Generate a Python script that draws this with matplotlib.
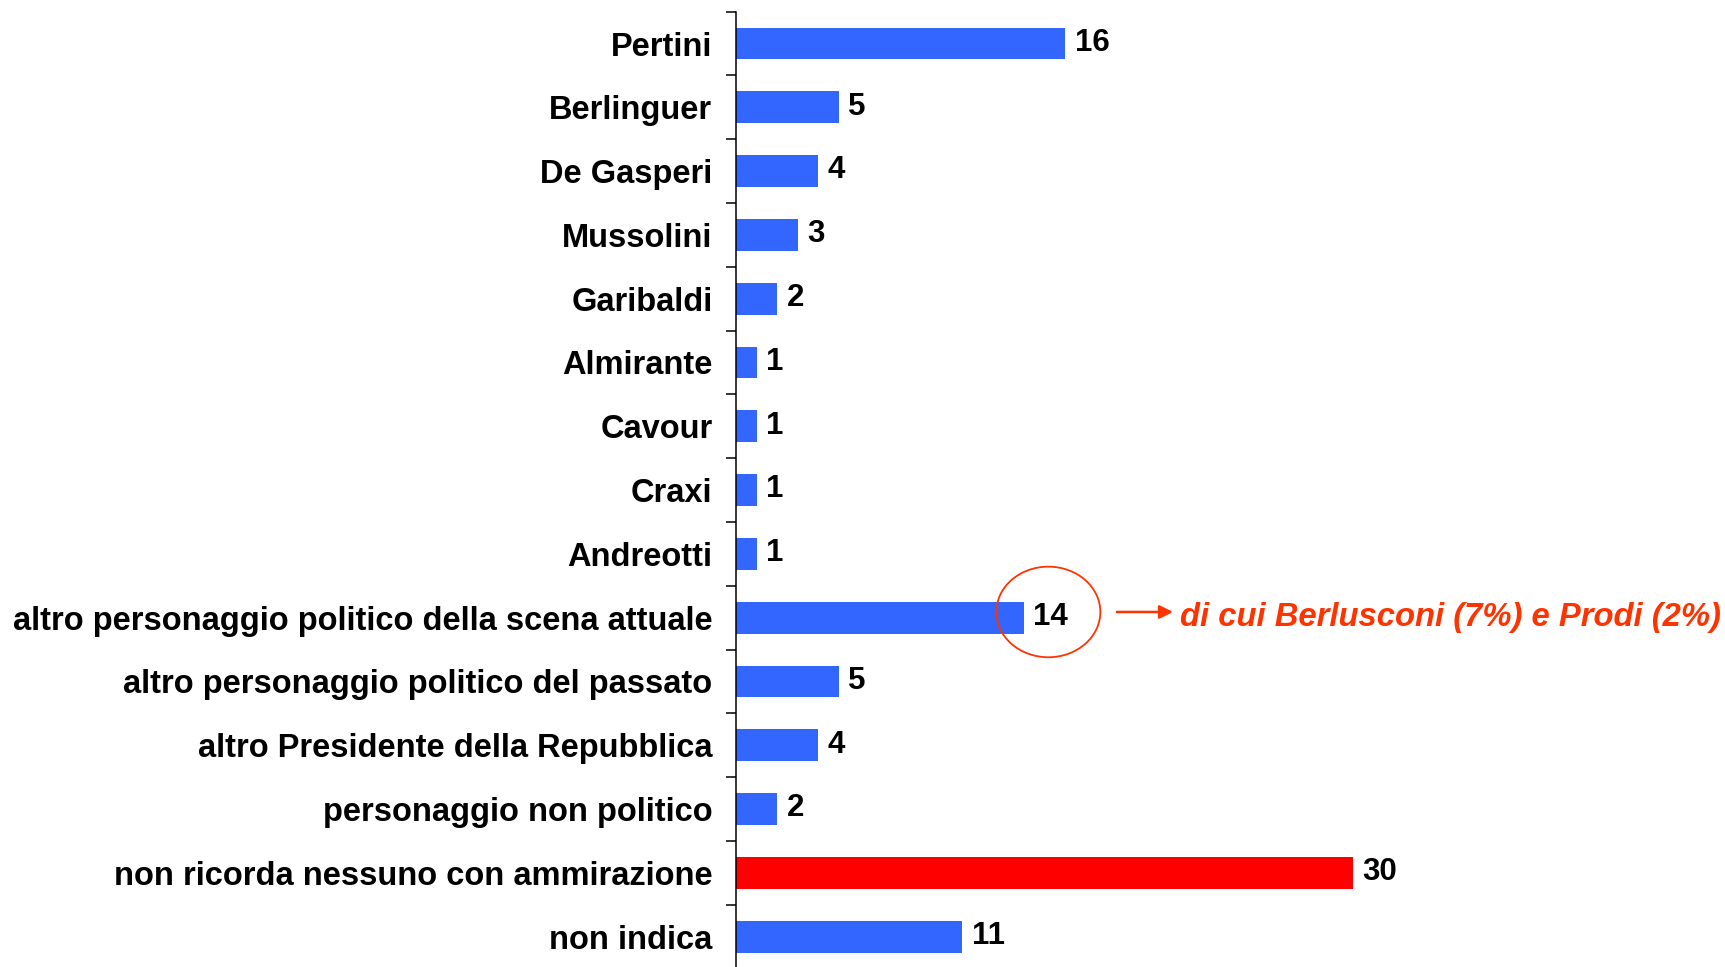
import matplotlib
matplotlib.use('Agg')
import matplotlib.pyplot as plt
from matplotlib.patches import Ellipse
import numpy as np

plt.rcParams['font.family'] = ['Liberation Sans', 'DejaVu Sans']

categories = ['Pertini', 'Berlinguer', 'De Gasperi', 'Mussolini', 'Garibaldi',
              'Almirante', 'Cavour', 'Craxi', 'Andreotti',
              'altro personaggio politico della scena attuale',
              'altro personaggio politico del passato',
              'altro Presidente della Repubblica',
              'personaggio non politico',
              'non ricorda nessuno con ammirazione',
              'non indica']
values = [16, 5, 4, 3, 2, 1, 1, 1, 1, 14, 5, 4, 2, 30, 11]
highlight = 'non ricorda nessuno con ammirazione'
note = 'di cui Berlusconi (7%) e Prodi (2%)'
note_row = 'altro personaggio politico della scena attuale'

blue = '#3366FF'
red = '#FF0000'
orange = '#FF3300'

fig = plt.figure(figsize=(17.25, 9.67), dpi=100)
ax = fig.add_axes([736 / 1725, -1.6 / 967, 989 / 1725, 957 / 967])

y = np.arange(len(categories))
colors = [red if c == highlight else blue for c in categories]
ax.barh(y, values, height=0.5, color=colors)

for yi, v in zip(y, values):
    ax.annotate(str(v), (v, yi), xytext=(7, 0.5), textcoords='offset points',
                va='center', ha='left', fontsize=22.5, fontweight='bold')

ax.set_xlim(0, 989 / 20.55)
ax.set_ylim(len(categories) - 0.5, -0.5)

# ticks at category boundaries, labels at the centres
ax.set_yticks(np.arange(-0.5, len(categories), 1.0))
ax.set_yticklabels([])
ax.set_yticks(y, minor=True)
ax.set_yticklabels(categories, minor=True, fontsize=23.5, fontweight='bold')
ax.tick_params(axis='y', which='major', length=7.2, width=1.1, direction='out')
ax.tick_params(axis='y', which='minor', length=0, pad=17)
ax.set_xticks([])
for s in ['top', 'right', 'bottom']:
    ax.spines[s].set_visible(False)
ax.spines['left'].set_linewidth(1.1)

# note on the "scena attuale" row
ri = categories.index(note_row)
rv = values[ri]
ax.add_patch(Ellipse((rv + 1.2, ri - 0.09), 5.06, 1.42, fill=False,
                     edgecolor=orange, linewidth=1.3, clip_on=False))
ax.annotate('', xy=(rv + 7.4, ri - 0.09), xytext=(rv + 4.4, ri - 0.09),
            arrowprops=dict(arrowstyle='-|>', color=orange, lw=1.8,
                            mutation_scale=20), annotation_clip=False)
ax.text(rv + 7.6, ri, note, color=orange, fontsize=23.6, fontweight='bold',
        fontstyle='italic', va='center', ha='left', clip_on=False)

fig.savefig('out.png', dpi=100)
